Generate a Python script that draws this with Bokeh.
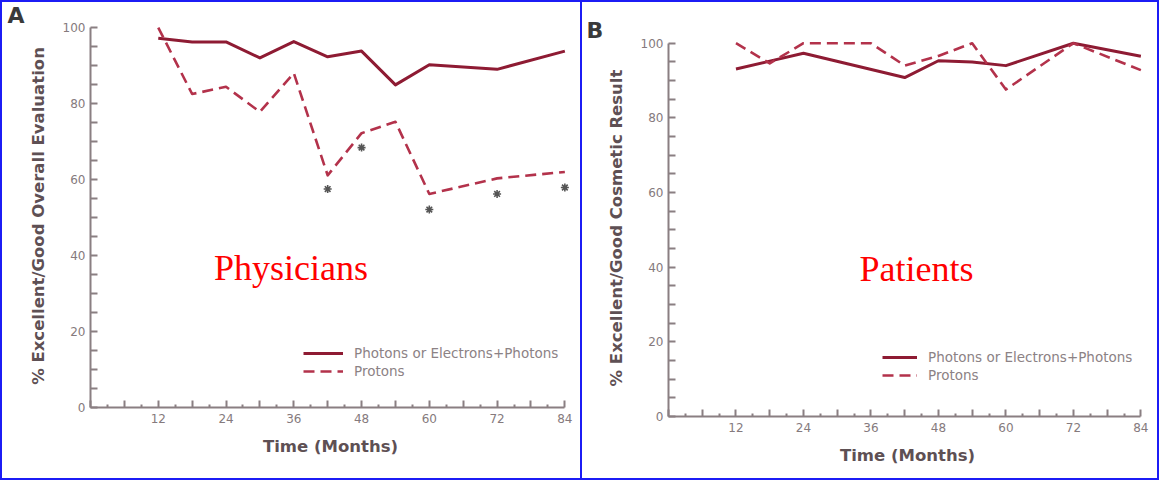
from bokeh.plotting import figure
from bokeh.layouts import row, column
from bokeh.models import (FixedTicker, Legend, LegendItem, Label, Range1d,
                          Title)
from bokeh.embed import file_html
from bokeh.resources import INLINE

# ---------------- data ----------------
# Panel A: physicians' evaluation
a_conv_x = [12, 18, 24, 30, 36, 42, 48, 54, 60, 72, 84]
a_conv_y = [97.2, 96.2, 96.2, 92.0, 96.3, 92.3, 93.8, 84.9, 90.2, 89.0, 93.8]
a_prot_x = [12, 18, 24, 30, 36, 42, 48, 54, 60, 72, 84]
a_prot_y = [100.0, 82.5, 84.4, 77.8, 88.0, 61.1, 72.2, 75.2, 56.2, 60.3, 62.0]
a_star_x = [42, 48, 60, 72, 84]
a_star_y = [57.5, 68.4, 52.1, 56.2, 57.9]

# Panel B: patients' evaluation
b_conv_x = [12, 18, 24, 42, 48, 54, 60, 72, 84]
b_conv_y = [93.1, 95.2, 97.3, 90.8, 95.3, 95.0, 94.0, 100.0, 96.5]
b_prot_x = [12, 18, 24, 36, 42, 48, 54, 60, 72, 84]
b_prot_y = [100.0, 94.6, 100.0, 100.0, 94.0, 96.6, 100.0, 87.6, 100.0, 92.8]

legend_labels = ["Photons or Electrons+Photons", "Protons"]
x_tick_labels = ["12", "24", "36", "48", "60", "72", "84"]
y_tick_labels = ["0", "20", "40", "60", "80", "100"]

SOLID = "#8e1b33"
DASHED = "#b3324b"
AXIS = "#8a7f82"
TICKTXT = "#857a7d"
TITLETXT = "#5e5054"
FONT = "DejaVu Sans"
FIG_H = 476


def make_panel(width, left, right, top, bottom, ytop, ytitle, conv, prot,
               stars, letter, letter_off, letter_standoff, letter_lh, word,
               word_pos, leg_loc, leg_h, glyph_w):
    p = figure(width=width, height=FIG_H, output_backend="svg",
               toolbar_location=None, min_border_left=left,
               min_border_right=right, min_border_top=top,
               min_border_bottom=bottom,
               x_range=Range1d(0, 85), y_range=Range1d(0, ytop))
    p.title.visible = False
    p.outline_line_color = None
    p.grid.grid_line_color = None
    p.background_fill_color = "white"
    p.border_fill_color = "white"
    p.add_layout(Title(text=letter, text_font=FONT, text_font_style="bold",
                       text_font_size="22px", text_color="#3a3a3a",
                       text_line_height=letter_lh, align="left",
                       offset=letter_off, standoff=letter_standoff), "above")

    # x axis
    xmaj = list(range(0, 85, 6))
    xmin = list(range(3, 85, 6))
    xa = p.xaxis[0]
    xa.ticker = FixedTicker(ticks=xmaj, minor_ticks=xmin)
    lab = {t: "" for t in xmaj}
    for s in x_tick_labels:
        lab[int(s)] = s
    xa.major_label_overrides = lab
    xa.bounds = (0, 84)
    xa.major_tick_in = 7
    xa.major_tick_out = 0
    xa.minor_tick_in = 3
    xa.minor_tick_out = 0
    xa.axis_line_width = 2
    xa.axis_line_color = AXIS
    xa.major_tick_line_color = AXIS
    xa.minor_tick_line_color = AXIS
    xa.major_tick_line_width = 2
    xa.minor_tick_line_width = 2
    xa.major_label_text_font = FONT
    xa.major_label_text_font_size = "12px"
    xa.major_label_text_color = TICKTXT
    xa.major_label_standoff = 6
    xa.axis_label = "Time (Months)"
    xa.axis_label_text_font = FONT
    xa.axis_label_text_font_style = "bold"
    xa.axis_label_text_font_size = "16.5px"
    xa.axis_label_text_color = TITLETXT
    xa.axis_label_standoff = 11

    # y axis
    ymaj = list(range(0, 101, 5))
    ya = p.yaxis[0]
    ya.ticker = FixedTicker(ticks=ymaj, minor_ticks=[])
    ylab = {t: "" for t in ymaj}
    for s in y_tick_labels:
        ylab[int(s)] = s
    ya.major_label_overrides = ylab
    ya.bounds = (0, 100)
    ya.major_tick_in = 7
    ya.major_tick_out = 0
    ya.axis_line_width = 2
    ya.axis_line_color = AXIS
    ya.major_tick_line_color = AXIS
    ya.major_tick_line_width = 2
    ya.major_label_text_font = FONT
    ya.major_label_text_font_size = "12px"
    ya.major_label_text_color = TICKTXT
    ya.major_label_standoff = 5
    ya.axis_label = ytitle
    ya.axis_label_text_font = FONT
    ya.axis_label_text_font_style = "bold"
    ya.axis_label_text_font_size = "16.5px"
    ya.axis_label_text_color = TITLETXT
    ya.axis_label_standoff = 12

    r1 = p.line(conv[0], conv[1], line_color=SOLID, line_width=3,
                line_join="round")
    r2 = p.line(prot[0], prot[1], line_color=DASHED, line_width=2.6,
                line_dash="11 6", line_join="round")
    if stars is not None:
        p.scatter(stars[0], stars[1], marker="asterisk", size=8,
                  line_color="#555555", line_width=1.6)

    leg = Legend(items=[LegendItem(label=legend_labels[0], renderers=[r1]),
                        LegendItem(label=legend_labels[1], renderers=[r2])],
                 location=leg_loc, padding=0, margin=0, spacing=0,
                 glyph_width=glyph_w, glyph_height=leg_h, label_height=leg_h,
                 label_standoff=11, background_fill_alpha=0,
                 border_line_color=None, label_text_font=FONT,
                 label_text_font_size="13.5px", label_text_color="#8c8285")
    p.add_layout(leg)

    p.add_layout(Label(x=word_pos[0], y=word_pos[1], text=word,
                       text_font="Liberation Serif", text_font_size="36px",
                       text_color="#ff0000", text_align="center",
                       text_baseline="alphabetic"))
    return p


pA = make_panel(578, 88, 10, 22, 71, 100.8,
                "% Excellent/Good Overall Evaluation",
                (a_conv_x, a_conv_y), (a_prot_x, a_prot_y),
                (a_star_x, a_star_y), "A", -83, -6, 0.8,
                "Physicians", (35.5, 36.7), (213, 27), 18, 40)
pB = make_panel(575, 86, 11, 37, 62, 101.0,
                "% Excellent/Good Cosmetic Result",
                (b_conv_x, b_conv_y), (b_prot_x, b_prot_y),
                None, "B", -82, -6, 1.6,
                "Patients", (44.1, 39.4), (214, 32), 18, 35)

colA = column(pA, styles={"border": "2px solid #1c1cf5"})
colB = column(pB, styles={"border": "2px solid #1c1cf5",
                          "border-left": "none"})
layout = row(colA, colB, spacing=0)
open("out.html", "w").write(file_html(layout, INLINE))
